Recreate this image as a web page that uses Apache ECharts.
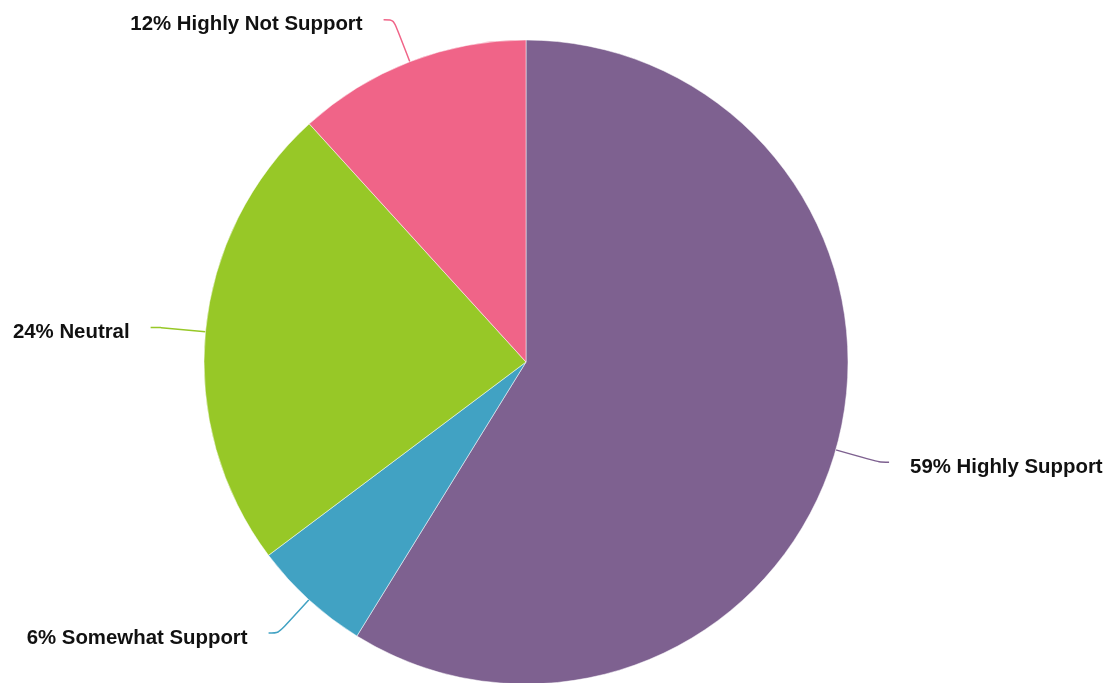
<!DOCTYPE html>
<html>
<head>
<meta charset="utf-8">
<script src="https://cdn.jsdelivr.net/npm/echarts@6/dist/echarts.min.js"></script>
<style>
html,body{margin:0;padding:0;background:#fff;}
#chart{width:1112px;height:683px;}
</style>
</head>
<body>
<div id="chart"></div>
<script>
var categories = ['Highly Support', 'Somewhat Support', 'Neutral', 'Highly Not Support'];
var values = [58.8, 5.95, 23.5, 11.75];
var colors = ['#7e6190', '#41a2c3', '#97c827', '#f06488'];

var chart = echarts.init(document.getElementById('chart'));
var data = categories.map(function (c, i) {
  return { name: c, value: values[i], itemStyle: { color: colors[i] }, labelLine: { lineStyle: { color: colors[i] } } };
});
chart.setOption({
  animation: false,
  series: [{
    type: 'pie',
    center: [526, 362],
    radius: 322,
    startAngle: 90,
    clockwise: true,
    avoidLabelOverlap: false,
    itemStyle: { borderColor: '#ffffff', borderWidth: 0.5 },
    label: {
      show: true,
      position: 'outside',
      color: '#111',
      fontFamily: 'Liberation Sans, Arial, sans-serif',
      fontWeight: 'bold',
      fontSize: 20.4,
      distanceToLabelLine: 21,
      formatter: function (p) { return '{s|}\n{a|' + Math.round(p.value) + '% ' + p.name + '}'; },
      rich: {
        s: { lineHeight: 10, fontSize: 1 },
        a: { lineHeight: 24, fontSize: 20.4, fontWeight: 'bold', color: '#111', fontFamily: 'Liberation Sans, Arial, sans-serif' }
      }
    },
    labelLine: { show: true, length: 45, length2: 10, smooth: true, lineStyle: { width: 1.5 } },
    data: data
  }]
});
</script>
</body>
</html>
